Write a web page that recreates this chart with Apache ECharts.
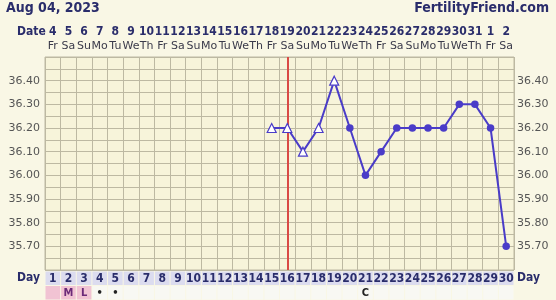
<!DOCTYPE html>
<html><head><meta charset="utf-8">
<script src="https://cdn.jsdelivr.net/npm/echarts@6/dist/echarts.min.js"></script>
<style>html,body{margin:0;padding:0;background:#f9f7e5;}#c{width:556px;height:300px;}</style>
</head><body><div id="c"></div>
<script>
const chartDate = 'Aug 04, 2023';
const siteName = 'FertilityFriend.com';
const cycleDays = ['1','2','3','4','5','6','7','8','9','10','11','12','13','14','15','16','17','18','19','20','21','22','23','24','25','26','27','28','29','30'];
const dates = ['4','5','6','7','8','9','10','11','12','13','14','15','16','17','18','19','20','21','22','23','24','25','26','27','28','29','30','31','1','2'];
const weekdays = ['Fr','Sa','Su','Mo','Tu','We','Th','Fr','Sa','Su','Mo','Tu','We','Th','Fr','Sa','Su','Mo','Tu','We','Th','Fr','Sa','Su','Mo','Tu','We','Th','Fr','Sa'];
const temps = [null,null,null,null,null,null,null,null,null,null,null,null,null,null,
  36.20,36.20,36.10,36.20,36.40,36.20,36.00,36.10,36.20,36.20,36.20,36.20,36.30,36.30,36.20,35.70];
const openDays = ['15','16','17','18','19'];
const ovulationDay = '16';
const cmLabels = ['','M','L','•','•','','','','','','','','','','','','','','','','C','','','','','','','','',''];
const periodDays = ['1','2','3'];
const yMin = 35.60, yMax = 36.50, yStep = 0.05;

const navy = '#2a2d6b';
const lineColor = '#4a3cc8';
const gridColor = '#bdb9a2';
const boldFont = '"DejaVu Sans Condensed","DejaVu Sans",sans-serif';

const lineData = temps.map((t, i) => {
  if (t === null) return null;
  if (openDays.includes(cycleDays[i])) {
    return {value: t, symbol: 'triangle', symbolSize: 9, itemStyle: {color: '#ffffff', borderColor: lineColor, borderWidth: 1.2}};
  }
  return {value: t, symbol: 'circle', symbolSize: 7.5, itemStyle: {color: lineColor}};
});

const rowData = [];
cycleDays.forEach((d, i) => {
  rowData.push([d, 'Day', d, 'day']);
  rowData.push([d, 'CM', cmLabels[i], periodDays.includes(d) ? 'period' : 'cm']);
});

function yLabel(v) {
  const c = Math.round(v * 100);
  if (c % 10 !== 0 || c <= Math.round(yMin * 100) || c >= Math.round(yMax * 100)) return '';
  return (c / 100).toFixed(2);
}

const chart = echarts.init(document.getElementById('c'), null, {renderer: 'canvas'});
chart.setOption({
  backgroundColor: '#f9f7e5',
  animation: false,
  title: [
    {text: chartDate, left: 6, top: 1, padding: 0, textStyle: {fontFamily: boldFont, fontWeight: 'bold', fontSize: 14, color: navy}},
    {text: siteName, right: 7, top: 1, padding: 0, textStyle: {fontFamily: boldFont, fontWeight: 'bold', fontSize: 14, color: navy}}
  ],
  graphic: [
    {type: 'text', left: 17, top: 26, style: {text: 'Date', font: 'bold 12px ' + boldFont, fill: navy}}
  ],
  grid: [
    {left: 45, right: 42, top: 57, height: 213, show: true, backgroundColor: '#f7f4da', borderColor: gridColor, borderWidth: 1},
    {left: 45, right: 42, top: 271, height: 29}
  ],
  xAxis: [
    {type: 'category', gridIndex: 0, data: cycleDays, boundaryGap: true,
     axisLine: {show: false}, axisTick: {show: false}, axisLabel: {show: false},
     splitLine: {show: true, interval: 0, lineStyle: {color: gridColor, width: 1}}},
    {type: 'category', gridIndex: 0, position: 'top', data: dates, boundaryGap: true,
     axisLine: {show: false}, axisTick: {show: false},
     axisLabel: {interval: 0, margin: 4,
       formatter: (v, i) => '{d|' + v + '}\n{w|' + weekdays[i] + '}',
       rich: {
         d: {fontFamily: boldFont, fontWeight: 'bold', fontSize: 12, color: navy, lineHeight: 14, align: 'center'},
         w: {fontFamily: '"DejaVu Sans",sans-serif', fontSize: 11, color: '#3a3a4a', lineHeight: 14, align: 'center'}
       }}},
    {type: 'category', gridIndex: 1, data: cycleDays, boundaryGap: true, show: false}
  ],
  yAxis: [
    {type: 'value', gridIndex: 0, min: yMin, max: yMax, interval: yStep, position: 'left',
     axisLine: {show: false}, axisTick: {show: false},
     axisLabel: {formatter: yLabel, margin: 5, color: '#555555', fontFamily: '"DejaVu Sans",sans-serif', fontSize: 11},
     splitLine: {show: true, lineStyle: {color: gridColor, width: 1}}},
    {type: 'value', gridIndex: 0, min: yMin, max: yMax, interval: yStep, position: 'right',
     axisLine: {show: false}, axisTick: {show: false},
     axisLabel: {formatter: yLabel, margin: 3, color: '#555555', fontFamily: '"DejaVu Sans",sans-serif', fontSize: 11},
     splitLine: {show: false}},
    {type: 'category', gridIndex: 1, data: ['Day', 'CM'], inverse: true, position: 'left',
     axisLine: {show: false}, axisTick: {show: false},
     axisLabel: {margin: 5, color: navy, fontFamily: boldFont, fontWeight: 'bold', fontSize: 12}},
    {type: 'category', gridIndex: 1, data: ['Day', 'CM'], inverse: true, position: 'right',
     axisLine: {show: false}, axisTick: {show: false},
     axisLabel: {margin: 3, color: navy, fontFamily: boldFont, fontWeight: 'bold', fontSize: 12}}
  ],
  series: [
    {type: 'line', xAxisIndex: 0, yAxisIndex: 0, data: lineData,
     lineStyle: {color: lineColor, width: 2}, itemStyle: {color: lineColor},
     markLine: {silent: true, symbol: 'none', label: {show: false},
       lineStyle: {color: '#d94a45', width: 2, type: 'solid'},
       data: [{xAxis: ovulationDay}]},
     z: 5},
    {type: 'custom', xAxisIndex: 2, yAxisIndex: 2, data: rowData,
     encode: {x: 0, y: 1},
     renderItem: function (params, api) {
       const c = api.coord([api.value(0), api.value(1)]);
       const s = api.size([1, 1]);
       const item = rowData[params.dataIndex];
       const kind = item[3];
       const fill = kind === 'day' ? '#dcdcef' : (kind === 'period' ? '#f1c3d3' : '#f8f8f3');
       const textColor = kind === 'day' ? navy : (kind === 'period' ? '#6b2a78' : '#222222');
       return {type: 'group', children: [
         {type: 'rect', shape: {x: c[0] - s[0] / 2 + 0.5, y: c[1] - s[1] / 2 + 0.5, width: s[0] - 1, height: s[1] - 1},
          style: {fill: fill}},
         {type: 'text', style: {text: item[2], x: c[0], y: c[1] + 0.5, align: 'center', verticalAlign: 'middle',
          font: 'bold ' + (kind === 'day' ? '12px ' : '11px ') + boldFont, fill: textColor}}
       ]};
     }}
  ]
});
</script></body></html>
